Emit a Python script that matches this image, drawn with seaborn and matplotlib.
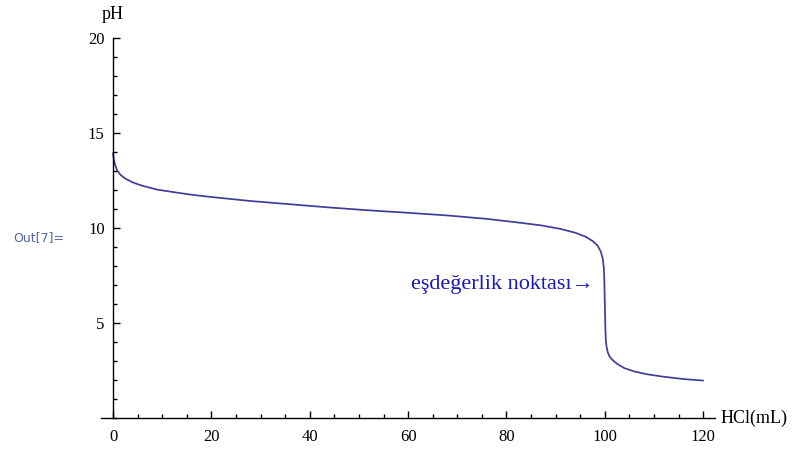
import matplotlib
matplotlib.use("Agg")
import matplotlib.pyplot as plt
from matplotlib.ticker import MultipleLocator
import seaborn as sns
import pandas as pd

# Titration curve: volume of HCl added (mL) against pH
hcl_ml = [0, 0.15, 0.4, 0.8, 1.5, 2.5, 4.0, 6.0, 9.0, 12.0, 16.0, 20.0,
          28.0, 36.0, 44.0, 52.0, 60.0, 68.0, 76.0, 82.0, 87.0, 91.0,
          94.0, 96.0, 97.5, 98.5, 99.2, 99.6, 99.8, 99.9, 100.0, 100.1,
          100.2, 100.35, 100.6, 101.0, 101.7, 102.5, 104.0, 106.0, 108.6,
          112.0, 116.0, 120.0]
ph = [13.95, 13.65, 13.35, 13.05, 12.8, 12.6, 12.4, 12.22, 12.02, 11.9,
      11.75, 11.63, 11.42, 11.25, 11.08, 10.93, 10.8, 10.66, 10.48, 10.3,
      10.14, 9.95, 9.75, 9.55, 9.32, 9.08, 8.75, 8.35, 7.9, 7.2, 6.0, 4.8,
      4.1, 3.75, 3.45, 3.22, 3.02, 2.85, 2.62, 2.45, 2.3, 2.17, 2.05, 1.97]

x_ticks = [0, 20, 40, 60, 80, 100, 120]
y_ticks = [5, 10, 15, 20]

df = pd.DataFrame({"HCl": hcl_ml, "pH": ph})

sns.set_style("white")
plt.rcParams["font.family"] = ["Liberation Serif", "DejaVu Serif"]

fig = plt.figure(figsize=(8.04, 4.5), dpi=100)
W, H = 804, 450
x0, x1 = -2.44, 122.4
y0, y1 = -0.4, 20.0
left_px, right_px = 101, 715
top_px = 38
bottom_px = 418 + 0.4 * 19
ax = fig.add_axes([left_px / W, 1 - bottom_px / H,
                   (right_px - left_px) / W, (bottom_px - top_px) / H])

line_color = "#3f3d99"
sns.lineplot(data=df, x="HCl", y="pH", ax=ax, color=line_color,
             linewidth=1.25, estimator=None, sort=False)

ax.set_xlim(x0, x1)
ax.set_ylim(y0, y1)
ax.set_xlabel("")
ax.set_ylabel("")

# Axes crossing at the origin
for side in ("top", "right"):
    ax.spines[side].set_visible(False)
ax.spines["left"].set_position(("data", 0))
ax.spines["bottom"].set_position(("data", 0))
ax.spines["left"].set_bounds(0, 20)
ax.spines["bottom"].set_bounds(x0, x1)
for side in ("left", "bottom"):
    ax.spines[side].set_color("black")
    ax.spines[side].set_linewidth(1.0)

ax.set_xticks(x_ticks)
ax.set_yticks(y_ticks)
ax.xaxis.set_minor_locator(MultipleLocator(5))
ax.yaxis.set_minor_locator(MultipleLocator(1))
ax.tick_params(axis="both", which="major", direction="in", length=5,
               width=1.0, color="black", labelsize=12, labelcolor="black",
               pad=6)
ax.tick_params(axis="both", which="minor", direction="in", length=3,
               width=1.0, color="black")
ax.tick_params(axis="x", which="both", bottom=True, top=False)
ax.tick_params(axis="y", which="both", left=True, right=False)
ax.tick_params(axis="x", which="major", pad=8)

# Axis labels placed at the ends of the axes
ax.text(0, 20.8, "pH", ha="center", va="bottom", fontsize=13,
        color="black", clip_on=False)
ax.text(123.6, 0, "HCl(mL)", ha="left", va="center", fontsize=13,
        color="black", clip_on=False)

# Equivalence point annotation
ax.text(97.8, 7.0, "eşdeğerlik noktası→", ha="right", va="center",
        fontsize=16, color="#1a1ab8")

# Output cell label
fig.text(13 / W, 1 - 238 / H, "Out[7]=", ha="left", va="center",
         fontsize=9, color="#5566aa", family=["DejaVu Sans"])

fig.savefig("out.png", dpi=100, facecolor="white")
